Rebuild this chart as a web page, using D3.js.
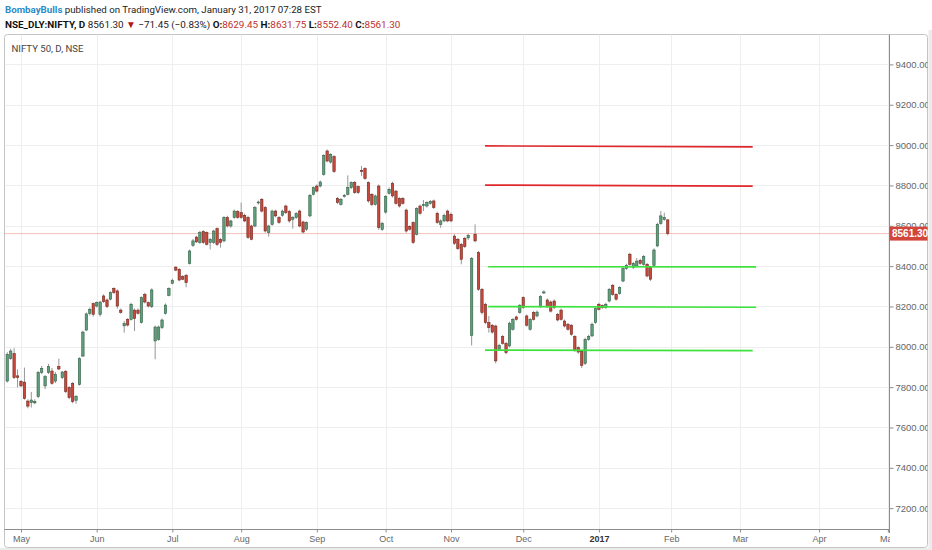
<!DOCTYPE html>
<html><head><meta charset="utf-8">
<script src="https://cdnjs.cloudflare.com/ajax/libs/d3/7.8.5/d3.min.js"></script>
<style>body{margin:0;background:#fff}svg{display:block}</style>
</head><body><svg id="c" width="932" height="550"></svg>
<script>
// ---------- data ----------
const firstBar = -4; // bar index of first candle (May 2, 2016 = 0)
const opens = [7830,7941,7966,7856,7829,7825,7731,7723,7722,7753,7872,7806,7872,7880,7830,7902,7847,7877,7798,7818,7735,7812,7954,8083,8165,8214,8202,8161,8252,8232,8236,8290,8277,8182,8104,8136,8136,8182,8182,8120,8260,8219,8199,8029,8037,8095,8166,8255,8315,8395,8384,8348,8355,8413,8503,8544,8517,8571,8566,8517,8517,8586,8533,8525,8641,8599,8641,8670,8665,8652,8641,8599,8599,8716,8731,8690,8566,8607,8673,8641,8652,8698,8670,8632,8641,8673,8619,8583,8649,8756,8797,8797,8855,8971,8916,8943,8735,8706,8745,8756,8789,8814,8794,8875,8884,8814,8756,8706,8797,8582,8668,8761,8811,8772,8735,8735,8678,8596,8616,8558,8698,8701,8698,8711,8723,8662,8607,8624,8673,8657,8549,8533,8508,8538,8540,8057,8558,8467,8285,8211,8120,8107,8103,7988,8051,8017,8004,8087,8148,8170,8244,8153,8087,8170,8153,8199,8270,8232,8222,8227,8161,8182,8128,8112,8107,8051,7996,7978,7918,8037,8054,8120,8211,8204,8194,8227,8305,8260,8264,8326,8388,8459,8393,8400,8429,8409,8409,8393,8404,8500,8612,8632,8629.45];
const highs = [7973,7990,7993,7888,7835,7897,7740,7776,7740,7880,7905,7860,7915,7895,7875,7941,7880,7885,7805,7825,7760,7948,8080,8170,8195,8220,8225,8228,8260,8240,8275,8295,8285,8190,8128,8142,8218,8190,8190,8250,8268,8225,8290,8105,8105,8140,8215,8295,8338,8400,8390,8355,8360,8482,8535,8550,8575,8578,8572,8540,8580,8592,8540,8648,8650,8630,8680,8678,8715,8660,8650,8605,8698,8725,8738,8698,8605,8680,8680,8648,8680,8705,8678,8648,8668,8680,8625,8622,8758,8795,8805,8825,8955,8978,8960,8950,8742,8738,8758,8850,8820,8822,8800,8896,8890,8820,8762,8755,8805,8620,8752,8790,8818,8778,8742,8742,8685,8602,8622,8692,8705,8728,8722,8728,8730,8670,8632,8660,8680,8665,8558,8540,8515,8545,8560,8445,8607,8475,8292,8218,8153,8113,8110,8015,8058,8025,8125,8143,8155,8212,8250,8160,8143,8177,8180,8256,8280,8240,8230,8235,8168,8190,8135,8118,8113,8058,8002,7985,8045,8060,8120,8195,8218,8210,8218,8292,8312,8266,8300,8395,8412,8466,8420,8440,8437,8455,8416,8400,8488,8615,8673,8665,8631.75];
const lows = [7823,7935,7840,7798,7800,7738,7695,7699,7715,7745,7865,7790,7865,7812,7820,7884,7840,7770,7740,7720,7718,7808,7950,8078,8155,8150,8195,8150,8218,8192,8230,8262,8189,8165,8070,8100,8130,8078,8160,8115,8215,8195,8192,7938,8030,8088,8160,8250,8310,8375,8325,8330,8295,8408,8495,8515,8510,8510,8502,8483,8510,8500,8492,8518,8592,8590,8635,8635,8635,8618,8535,8528,8592,8705,8665,8566,8546,8600,8642,8610,8645,8658,8615,8586,8634,8592,8562,8575,8642,8750,8765,8790,8848,8915,8908,8862,8708,8700,8740,8750,8782,8758,8758,8847,8828,8715,8698,8700,8580,8575,8660,8755,8740,8705,8690,8705,8566,8576,8510,8552,8655,8673,8690,8705,8683,8610,8590,8618,8618,8618,8505,8480,8409,8490,8530,8007,8518,8278,8160,8112,8070,8065,7918,7980,8010,7963,7997,8080,8130,8164,8188,8100,8080,8130,8146,8192,8262,8192,8170,8187,8126,8130,8096,8080,8055,7975,7966,7895,7910,8030,8048,8114,8180,8188,8188,8220,8253,8229,8258,8320,8382,8402,8386,8394,8407,8402,8344,8327,8398,8494,8605,8625,8552.40];
const closes = [7963,7979,7847,7848,7806,7743,7706,7736,7730,7872,7893,7852,7902,7819,7864,7890,7875,7778,7748,7728,7755,7941,8073,8163,8186,8161,8219,8222,8224,8199,8269,8269,8202,8170,8115,8108,8211,8140,8166,8244,8222,8202,8282,8098,8098,8133,8207,8289,8330,8380,8331,8335,8318,8475,8525,8520,8566,8517,8508,8533,8574,8508,8517,8641,8599,8624,8673,8641,8641,8624,8542,8533,8690,8718,8673,8574,8599,8673,8649,8616,8673,8665,8624,8641,8660,8599,8569,8616,8751,8789,8772,8817,8949,8921,8954,8869,8715,8731,8751,8789,8814,8765,8765,8869,8834,8723,8706,8748,8591,8612,8745,8781,8748,8711,8698,8711,8574,8583,8517,8685,8662,8705,8715,8720,8690,8616,8624,8652,8624,8624,8513,8487,8434,8497,8553,8437,8525,8285,8170,8120,8095,8073,7930,8007,8017,7971,8117,8136,8136,8206,8194,8107,8136,8136,8172,8249,8272,8199,8177,8194,8133,8136,8103,8087,8062,7984,7974,7908,8037,8051,8112,8189,8186,8194,8211,8285,8260,8236,8294,8388,8404,8409,8414,8425,8414,8447,8351,8335,8480,8607,8649,8641,8561.30];

const monthLabels = ["May","Jun","Jul","Aug","Sep","Oct","Nov","Dec","2017","Feb","Mar","Apr","May"];
const monthBars   = [0,22,44,64,86,106,125,146,168,189,209,232,252];
const priceTicks  = [7200,7400,7600,7800,8000,8200,8400,8600,8800,9000,9200,9400];
const lastPrice = 8561.30;

// drawn horizontal level lines: [startBar, endBar, startPrice, endPrice]
const resistanceLines = [[134.9,212.7,8996,8991],[134.9,212.7,8802,8797]];
const supportLines    = [[135.8,213.7,8397,8396],[135.8,213.7,8199,8196],[134.9,212.7,7984,7981]];

// ---------- layout ----------
const svg = d3.select("#c");
const L = 4.5, R = 889, T = 34.5, B = 529;
const x = d3.scaleLinear().domain([0, 188]).range([21, 21 + 3.44*188]);
const y = d3.scaleLinear().domain([8000, 9400]).range([346.8, 346.8 - 1400*0.2017]);

const candles = opens.map((o,i)=>({i:firstBar+i,o,h:highs[i],l:lows[i],c:closes[i]}));

// outer grey margins
svg.append("rect").attr("x",0).attr("y",548).attr("width",932).attr("height",2).attr("fill","#ececec");
svg.append("rect").attr("x",928.5).attr("y",30).attr("width",4).attr("height",520).attr("fill","#ececec");

// frame
svg.append("rect").attr("x",L).attr("y",T).attr("width",927.5-L).attr("height",547.5-T)
  .attr("rx",3).attr("fill","#fff").attr("stroke","#c4c4c4");

const defs = svg.append("defs");
defs.append("clipPath").attr("id","plot").append("rect").attr("x",L).attr("y",T).attr("width",R-L).attr("height",B-T);
defs.append("clipPath").attr("id","paxis").append("rect").attr("x",R).attr("y",T).attr("width",927.5-R).attr("height",B-T+20);
defs.append("clipPath").attr("id","taxis").append("rect").attr("x",L).attr("y",B).attr("width",R-L+1).attr("height",20);

const plot = svg.append("g").attr("clip-path","url(#plot)");

// grid
plot.selectAll(".hg").data(priceTicks).join("line")
  .attr("x1",L).attr("x2",R).attr("y1",d=>Math.round(y(d))+0.5).attr("y2",d=>Math.round(y(d))+0.5)
  .attr("stroke","#eeeeee");
plot.selectAll(".vg").data(monthBars).join("line")
  .attr("y1",T).attr("y2",B).attr("x1",d=>Math.round(x(d))+0.5).attr("x2",d=>Math.round(x(d))+0.5)
  .attr("stroke","#eeeeee");

// last price dotted line
plot.append("line").attr("x1",L).attr("x2",R).attr("y1",y(lastPrice)).attr("y2",y(lastPrice))
  .attr("stroke","#e8836f").attr("stroke-dasharray","1,1").attr("stroke-width",1);

// candles
const bw = 2.4;
const cg = plot.append("g");
cg.selectAll(".wick").data(candles).join("line")
  .attr("x1",d=>x(d.i)).attr("x2",d=>x(d.i)).attr("y1",d=>y(d.h)).attr("y2",d=>y(d.l))
  .attr("stroke","#8a8a8c").attr("stroke-width",0.9);
cg.selectAll(".body").data(candles).join("rect")
  .attr("x",d=>x(d.i)-bw/2).attr("width",bw)
  .attr("y",d=>y(Math.max(d.o,d.c)))
  .attr("height",d=>Math.max(1,Math.abs(y(d.o)-y(d.c))))
  .attr("fill",d=>d.c>=d.o?"#5f9e7a":"#c8493c")
  .attr("stroke",d=>d.c>=d.o?"#2d5a41":"#6a2219").attr("stroke-width",0.55);

// level lines
function drawLevels(arr,color){
  plot.append("g").selectAll("line").data(arr).join("line")
    .attr("x1",d=>x(d[0])).attr("x2",d=>x(d[1])).attr("y1",d=>y(d[2])).attr("y2",d=>y(d[3]))
    .attr("stroke",color).attr("stroke-width",1.7);
}
drawLevels(resistanceLines,"#e0282c");
drawLevels(supportLines,"#3ee23e");

// axes lines
svg.append("line").attr("x1",R+0.5).attr("x2",R+0.5).attr("y1",T).attr("y2",B+4).attr("stroke","#8c8c8c");
svg.append("line").attr("x1",L).attr("x2",R).attr("y1",B+0.5).attr("y2",B+0.5).attr("stroke","#8c8c8c");

// price axis
const pa = svg.append("g").attr("clip-path","url(#paxis)").append("g").attr("transform",`translate(${R+0.5},0)`)
  .call(d3.axisRight(y).tickValues(priceTicks).tickFormat(d3.format(".2f")).tickSize(4).tickPadding(2));
pa.select(".domain").remove();
pa.selectAll("line").attr("stroke","#8c8c8c");
pa.selectAll("text").attr("fill","#666").attr("font-family","Liberation Sans, Arial, sans-serif").attr("font-size",9.5);

// time axis
const ta = svg.append("g").attr("clip-path","url(#taxis)").append("g").attr("transform",`translate(0,${B+0.5})`)
  .call(d3.axisBottom(x).tickValues(monthBars).tickFormat((d,i)=>monthLabels[i]).tickSize(3).tickPadding(3));
ta.select(".domain").remove();
ta.selectAll("line").attr("stroke","#8c8c8c");
ta.selectAll("text").attr("font-family","Liberation Sans, Arial, sans-serif").attr("font-size",9)
  .attr("font-weight",(d,i)=>monthLabels[i]==="2017"?"bold":"normal")
  .attr("fill",(d,i)=>monthLabels[i]==="2017"?"#333":"#666");

// last price label
const ly = y(lastPrice);
svg.append("rect").attr("x",R+0.5).attr("y",ly-7).attr("width",927.5-R-0.5).attr("height",14).attr("fill","#d2453a");
svg.append("text").attr("x",R+3).attr("y",ly+3.5).attr("fill","#fff").attr("font-weight","bold")
  .attr("font-family","Liberation Sans, Arial, sans-serif").attr("font-size",10).text(lastPrice.toFixed(2));

// fit a text element's width by font size (no glyph stretching)
function fit(sel, target, fs){
  sel.attr("font-size",fs);
  const w = sel.node().getComputedTextLength();
  if (w > 0) sel.attr("font-size", fs*target/w);
  return sel;
}
const hf = "'Liberation Sans Narrow', 'Roboto', sans-serif";

// chart title
fit(svg.append("text").attr("x",11.5).attr("y",52).attr("font-family",hf).attr("fill","#444")
  .text("NIFTY 50, D, NSE"), 72, 11);

// header line 1
const h1 = svg.append("text").attr("x",5).attr("y",13).attr("font-family",hf);
h1.append("tspan").attr("fill","#2b8bc6").attr("font-weight","bold").text("BombayBulls");
h1.append("tspan").attr("fill","#222").text(" published on TradingView.com, January 31, 2017 07:28 EST");
fit(h1, 317, 12);

// header line 2
const h2 = svg.append("text").attr("x",5).attr("y",27.5).attr("font-family",hf);
h2.append("tspan").attr("fill","#111").attr("font-weight","bold").text("NSE_DLY:NIFTY, D");
h2.append("tspan").attr("fill","#222").text(" 8561.30 ");
h2.append("tspan").attr("fill","#b3161a").text("▼");
h2.append("tspan").attr("fill","#222").text(" −71.45 (−0.83%) ");
const ohlcKeys = ["O:","H:","L:","C:"];
const ohlcVals = ["8629.45","8631.75","8552.40","8561.30"];
ohlcKeys.forEach((k,j)=>{
  h2.append("tspan").attr("fill","#111").attr("font-weight","bold").text((j?" ":"")+k);
  h2.append("tspan").attr("fill","#c0302c").text(ohlcVals[j]);
});
fit(h2, 396, 12);
</script></body></html>
